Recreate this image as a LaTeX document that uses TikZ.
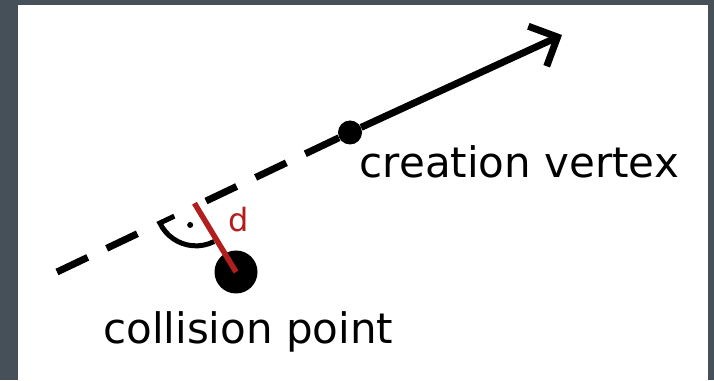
\documentclass[tikz,border=0pt]{standalone}
\usepackage{fontspec}
\setmainfont{DejaVu Sans}
\usetikzlibrary{arrows.meta,calc}
\definecolor{bggray}{RGB}{70,80,88}
\definecolor{dred}{RGB}{178,30,30}
\begin{document}
\begin{tikzpicture}[x=1pt,y=1pt,
  ray/.style={line width=7pt},
  dot/.style={circle,fill=black,inner sep=0pt,minimum size=#1},
  lbl/.style={font=\fontsize{42}{50}\selectfont, inner sep=0pt, anchor=base west}]
\fill[bggray] (0,0) rectangle (714,380);
\fill[white] (18,0) rectangle (708,375);
\useasboundingbox (0,0) rectangle (714,380);
\coordinate (S) at (57,108);
\node[dot=24pt] (V) at (350,247.5) {};
\coordinate (T) at (562,345);
\node[dot=43pt] (C) at (236,108) {};
\coordinate (F) at ($(S)!0.4744!(V)$);
\draw[ray, dash pattern=on 34pt off 21pt on 34pt off 76pt on 34pt off 21pt on 34pt off 21pt on 60pt off 0pt] (S) -- (V);
\draw[ray, -{Straight Barb[length=22pt,width=44pt]}] (V) -- (T);
\draw[line width=5pt] ($(F)!24pt!(S)$) -- ($(F)!40pt!(S)$) arc[start angle=205.4, end angle=297, radius=40pt];
\node[dot=6pt] (ra) at ($(F)+(253:20pt)$) {};
\draw[dred, line width=5.5pt] ($(F)!-3pt!(C)$) -- (C.center);
\node[lbl] (cv) at (359.5,202) {creation vertex};
\node[lbl] (cp) at (103,37) {collision point};
\node[lbl, text=dred, font=\fontsize{32}{40}\selectfont] (d) at (228.5,148) {d};
\end{tikzpicture}
\end{document}
